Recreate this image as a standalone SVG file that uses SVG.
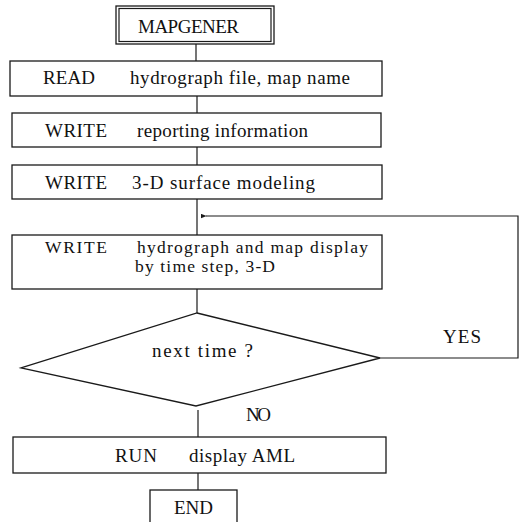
<svg xmlns="http://www.w3.org/2000/svg" width="519" height="522" viewBox="0 0 519 522">
<defs>
<style>
.box{fill:#fff;stroke:#1a1a1a;stroke-width:1.3}
.ln{fill:none;stroke:#1a1a1a;stroke-width:1.2}
.t{font-family:"Liberation Serif","Times New Roman",serif;font-size:19px;fill:#111}
.s{font-size:17.5px}
</style>
<marker id="ah" viewBox="0 0 8 6" refX="1" refY="3" markerWidth="6" markerHeight="5" orient="auto-start-reverse" markerUnits="userSpaceOnUse">
<path d="M8,0 L0,3 L8,6 Z" fill="#1a1a1a"/>
</marker>
</defs>
<rect width="519" height="522" fill="#fff"/>
<g id="connectors">
<line class="ln" x1="196" y1="44" x2="196" y2="61"/>
<line class="ln" x1="197" y1="96" x2="197" y2="113"/>
<line class="ln" x1="197" y1="147" x2="197" y2="165"/>
<line class="ln" x1="197" y1="199" x2="197" y2="235"/>
<line class="ln" x1="197" y1="289" x2="197" y2="313"/>
<polyline class="ln" points="380,358 518,358 518,216 206,216" marker-end="url(#ah)"/>
<line class="ln" x1="198" y1="410" x2="198" y2="437"/>
<line class="ln" x1="198" y1="473" x2="198" y2="490"/>
</g>
<g id="n-mapgener">
<rect class="box" x="116" y="6" width="158" height="38"/>
<rect class="ln" x="119" y="8.5" width="152" height="33"/>
<text class="t" x="138" y="33" textLength="101" lengthAdjust="spacing">MAPGENER</text>
</g>
<g id="n-read">
<rect class="box" x="10" y="61" width="372" height="35"/>
<text class="t" x="43" y="84" textLength="52" lengthAdjust="spacing">READ</text>
<text class="t" x="130" y="84" textLength="220" lengthAdjust="spacing">hydrograph file, map name</text>
</g>
<g id="n-report">
<rect class="box" x="12" y="113" width="369" height="34"/>
<text class="t" x="45" y="137" textLength="62" lengthAdjust="spacing">WRITE</text>
<text class="t" x="137" y="137" textLength="171" lengthAdjust="spacing">reporting information</text>
</g>
<g id="n-surface">
<rect class="box" x="12" y="165" width="370" height="34"/>
<text class="t" x="45" y="189" textLength="62" lengthAdjust="spacing">WRITE</text>
<text class="t" x="132" y="189" textLength="183" lengthAdjust="spacing">3-D surface modeling</text>
</g>
<g id="n-display">
<rect class="box" x="12" y="235" width="370" height="54"/>
<text class="t s" x="45" y="253" textLength="62" lengthAdjust="spacing">WRITE</text>
<text class="t s" x="137" y="253" textLength="231" lengthAdjust="spacing">hydrograph and map display</text>
<text class="t s" x="135" y="272" textLength="140" lengthAdjust="spacing">by time step, 3-D</text>
</g>
<g id="n-decision">
<polygon class="box" points="197,313 380,358 196,406 21,368"/>
<text class="t" x="152" y="357" textLength="101" lengthAdjust="spacing">next time ?</text>
</g>
<g id="labels">
<text class="t" x="443" y="343" textLength="38" lengthAdjust="spacing">YES</text>
<text class="t" x="246" y="421" textLength="25" lengthAdjust="spacing">NO</text>
</g>
<g id="n-run">
<rect class="box" x="13" y="437" width="373" height="36"/>
<text class="t" x="115" y="462" textLength="42" lengthAdjust="spacing">RUN</text>
<text class="t" x="189" y="462" textLength="106" lengthAdjust="spacing">display AML</text>
</g>
<g id="n-end">
<rect class="box" x="150" y="490" width="87" height="40"/>
<text class="t" x="174" y="514" textLength="39" lengthAdjust="spacing">END</text>
</g>
</svg>
